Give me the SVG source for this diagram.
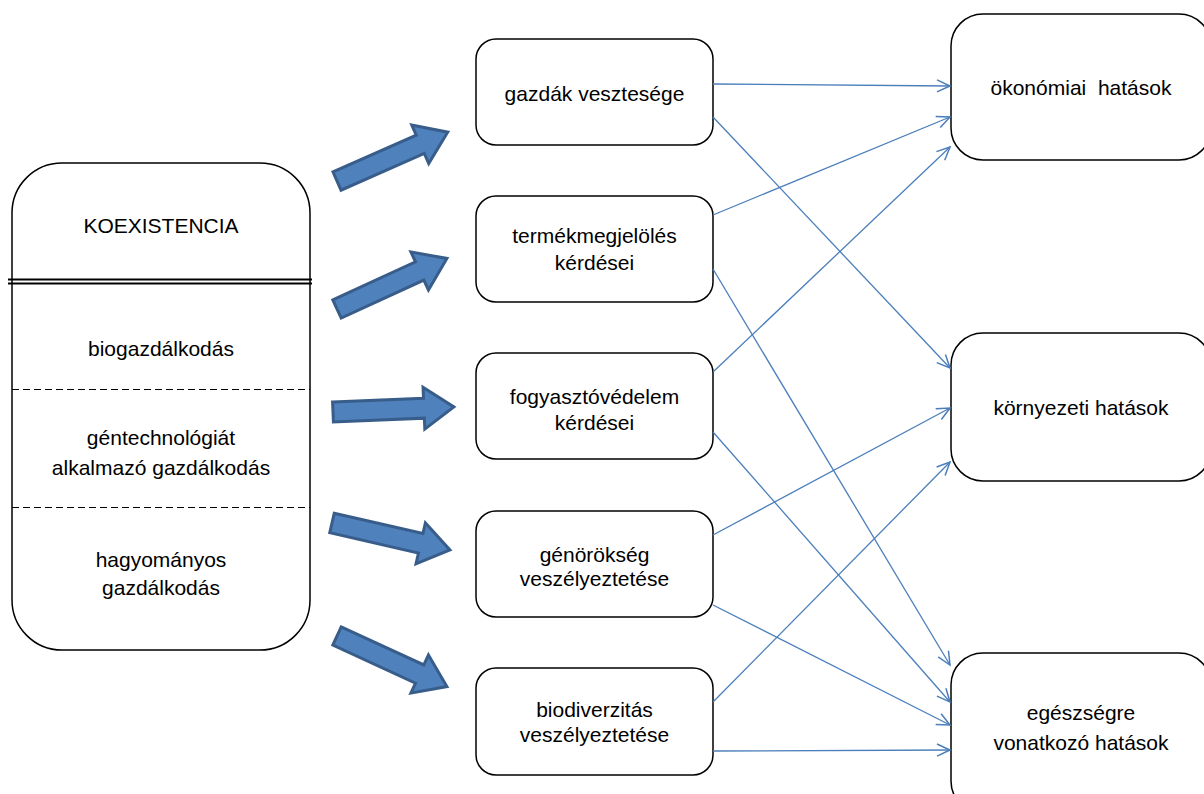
<svg xmlns="http://www.w3.org/2000/svg" width="1204" height="794" viewBox="0 0 1204 794">
<style>
  .box { fill: #ffffff; stroke: #000000; stroke-width: 1.5; }
  .t { font-family: "Liberation Sans", Arial, sans-serif; font-size: 21px; fill: #000000; text-anchor: middle; white-space: pre; }
  .blk { fill: #4f81bd; stroke: #385d8a; stroke-width: 3; stroke-linejoin: miter; }
  .con { stroke: #4a7ebb; stroke-width: 1.3; fill: none; marker-end: url(#open); }
  .dash { stroke: #000000; stroke-width: 1.2; stroke-dasharray: 7 4; }
  .dbl { stroke: #000000; stroke-width: 2; }
</style>
<defs>
  <marker id="open" markerUnits="userSpaceOnUse" markerWidth="16" markerHeight="16" refX="14" refY="7" orient="auto" viewBox="0 0 16 14">
    <path d="M1,1 L14,7 L1,13" fill="none" stroke="#4a7ebb" stroke-width="1.5"/>
  </marker>
  <path id="bigarrow" d="M0,-10 L91,-10 L91,-21 L121,0 L91,21 L91,10 L0,10 Z"/>
</defs>

<g id="koexistencia">
  <rect class="box" x="12" y="163" width="298" height="487" rx="50" ry="50"/>
  <line class="dbl" x1="8" y1="279.5" x2="312" y2="279.5"/>
  <line class="dbl" x1="8" y1="283.5" x2="312" y2="283.5"/>
  <line class="dash" x1="12" y1="389.5" x2="310" y2="389.5"/>
  <line class="dash" x1="12" y1="507.5" x2="310" y2="507.5"/>
  <text class="t" x="161" y="233">KOEXISTENCIA</text>
  <text class="t" x="161" y="356">biogazdálkodás</text>
  <text class="t" x="161" y="445">géntechnológiát</text>
  <text class="t" x="161" y="475">alkalmazó gazdálkodás</text>
  <text class="t" x="161" y="567">hagyományos</text>
  <text class="t" x="161" y="595">gazdálkodás</text>
</g>

<g id="block-arrows">
  <use href="#bigarrow" class="blk" transform="translate(337,181) rotate(-23.8)"/>
  <use href="#bigarrow" class="blk" transform="translate(337,309) rotate(-24.7)"/>
  <use href="#bigarrow" class="blk" transform="translate(333,412) rotate(-2.4)"/>
  <use href="#bigarrow" class="blk" transform="translate(332,523) rotate(12.9)"/>
  <use href="#bigarrow" class="blk" transform="translate(337,636) rotate(24.7)"/>
</g>

<g id="gazdak">
  <rect class="box" x="476" y="39" width="237" height="106" rx="20" ry="20"/>
  <text class="t" x="594.5" y="101">gazdák vesztesége</text>
</g>
<g id="termekmegjeloles">
  <rect class="box" x="476" y="196" width="237" height="106" rx="20" ry="20"/>
  <text class="t" x="594.5" y="243">termékmegjelölés</text>
  <text class="t" x="594.5" y="270">kérdései</text>
</g>
<g id="fogyasztovedelem">
  <rect class="box" x="476" y="353" width="237" height="106" rx="20" ry="20"/>
  <text class="t" x="594.5" y="404">fogyasztóvédelem</text>
  <text class="t" x="594.5" y="430">kérdései</text>
</g>
<g id="genorokseg">
  <rect class="box" x="476" y="511" width="237" height="106" rx="20" ry="20"/>
  <text class="t" x="594.5" y="562">génörökség</text>
  <text class="t" x="594.5" y="586">veszélyeztetése</text>
</g>
<g id="biodiverzitas">
  <rect class="box" x="476" y="668" width="237" height="107" rx="20" ry="20"/>
  <text class="t" x="594.5" y="717">biodiverzitás</text>
  <text class="t" x="594.5" y="742">veszélyeztetése</text>
</g>

<g id="okonomiai">
  <rect class="box" x="951" y="14" width="260" height="146" rx="32" ry="32"/>
  <text class="t" x="1081" y="95">ökonómiai  hatások</text>
</g>
<g id="kornyezeti">
  <rect class="box" x="951" y="333" width="260" height="148" rx="32" ry="32"/>
  <text class="t" x="1081" y="415">környezeti hatások</text>
</g>
<g id="egeszsegre">
  <rect class="box" x="951" y="653" width="260" height="160" rx="32" ry="32"/>
  <text class="t" x="1081" y="720">egészségre</text>
  <text class="t" x="1081" y="750">vonatkozó hatások</text>
</g>

<g id="connectors">
  <line class="con" x1="713" y1="84" x2="950" y2="86"/>
  <line class="con" x1="713" y1="117" x2="950" y2="368"/>
  <line class="con" x1="713" y1="215" x2="950" y2="117"/>
  <line class="con" x1="713" y1="269" x2="950" y2="665"/>
  <line class="con" x1="713" y1="372" x2="950" y2="147"/>
  <line class="con" x1="713" y1="432" x2="950" y2="702"/>
  <line class="con" x1="713" y1="535" x2="950" y2="408"/>
  <line class="con" x1="713" y1="605" x2="950" y2="725"/>
  <line class="con" x1="713" y1="702" x2="950" y2="462"/>
  <line class="con" x1="713" y1="751" x2="950" y2="750"/>
</g>
</svg>
